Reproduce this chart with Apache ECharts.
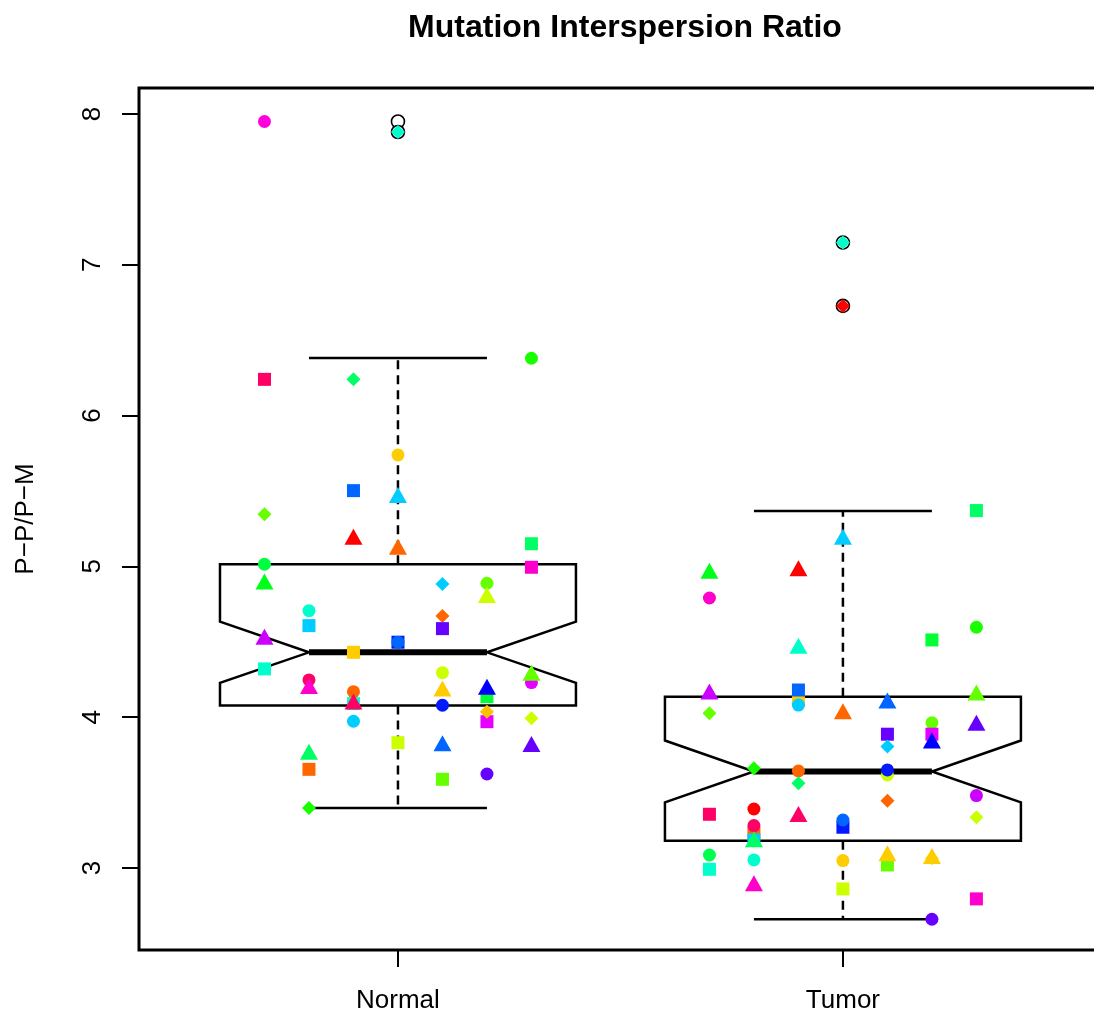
<!DOCTYPE html>
<html>
<head>
<meta charset="utf-8">
<script src="https://cdn.jsdelivr.net/npm/echarts@6/dist/echarts.min.js"></script>
<style>
  html, body { margin: 0; padding: 0; background: #fff; }
  #chart { width: 1094px; height: 1018px; }
</style>
</head>
<body>
<div id="chart"></div>
<script>
// ---- data ---------------------------------------------------------------
const groups = ['Normal', 'Tumor'];
const yTicks = [3, 4, 5, 6, 7, 8];

// box statistics: lower whisker, lower hinge, median, upper hinge, upper whisker
const normalBox = [3.398, 4.077, 4.43, 5.014, 6.382];
const tumorBox = [2.66, 3.18, 3.64, 4.136, 5.367];
// notch limits around the median
const normalNotch = [4.227, 4.633];
const tumorNotch = [3.435, 3.845];
// values beyond the whiskers
const normalOutliers = [7.95, 7.88];
const tumorOutliers = [7.147, 6.727];

// individual samples, jittered horizontally around their group
const normalValues = [
  7.95, 6.24, 5.345, 5.014, 4.90, 4.534, 4.32,
  4.706, 4.607, 4.247, 4.207, 3.771, 3.654, 3.398,
  6.24, 5.502, 5.197, 4.43, 4.169, 4.09, 4.103, 3.973,
  7.88, 5.739, 5.473, 5.13, 4.497, 4.497, 3.831,
  4.883, 4.671, 4.587, 4.295, 4.19, 4.079, 3.827, 3.588,
  4.888, 4.81, 4.136, 4.202, 3.97, 4.036, 3.623,
  6.38, 5.15, 4.994, 4.229, 4.295, 3.993, 3.822
];
const normalJitter = [
  -0.3, -0.3, -0.3, -0.3, -0.3, -0.3, -0.3,
  -0.2, -0.2, -0.2, -0.2, -0.2, -0.2, -0.2,
  -0.1, -0.1, -0.1, -0.1, -0.1, -0.1, -0.1, -0.1,
  0, 0, 0, 0, 0, 0, 0,
  0.1, 0.1, 0.1, 0.1, 0.1, 0.1, 0.1, 0.1,
  0.2, 0.2, 0.2, 0.2, 0.2, 0.2, 0.2,
  0.3, 0.3, 0.3, 0.3, 0.3, 0.3, 0.3
];
const normalPch = [
  16, 15, 18, 16, 17, 17, 15,
  16, 15, 16, 17, 17, 15, 18,
  18, 15, 17, 15, 16, 15, 17, 16,
  18, 16, 17, 17, 15, 16, 15,
  18, 18, 15, 16, 17, 16, 17, 15,
  16, 17, 15, 17, 15, 18, 16,
  16, 15, 15, 16, 17, 18, 17
];
const normalColors = [
  '#FF00DD', '#FF0066', '#66FF00', '#00FF40', '#00FF19', '#CC00FF', '#00FFCC',
  '#00FFCC', '#00CCFF', '#FF0066', '#FF00CC', '#00FF66', '#FF6600', '#19FF00',
  '#00FF66', '#0066FF', '#FF0000', '#FFCC00', '#FF6600', '#00FFCC', '#FF0066', '#00CCFF',
  '#00FFCC', '#FFCC00', '#00CCFF', '#FF6600', '#0019FF', '#0066FF', '#CCFF00',
  '#00CCFF', '#FF6600', '#6600FF', '#CCFF00', '#FFCC00', '#0019FF', '#0066FF', '#66FF00',
  '#66FF00', '#CCFF00', '#00FF33', '#0000FF', '#E600FF', '#FFC000', '#6600FF',
  '#19FF00', '#00FF66', '#FF00CC', '#E600FF', '#66FF00', '#CCFF00', '#6600FF'
];

const tumorValues = [
  4.971, 4.79, 4.17, 4.026, 3.356, 3.086, 2.991,
  3.661, 3.391, 3.23, 3.186, 3.281, 3.19, 3.053, 2.899,
  4.987, 4.474, 4.115, 4.08, 4.18, 3.643, 3.562, 3.358,
  7.147, 6.727, 5.197, 4.04, 3.27, 3.318, 3.049, 2.861,
  4.11, 3.887, 3.805, 3.617, 3.65, 3.446, 3.02, 3.098,
  4.512, 3.963, 3.887, 3.845, 3.065, 3.08, 2.66,
  5.37, 4.596, 4.163, 3.963, 3.48, 3.336, 2.795
];
const tumorJitter = [
  -0.3, -0.3, -0.3, -0.3, -0.3, -0.3, -0.3,
  -0.2, -0.2, -0.2, -0.2, -0.2, -0.2, -0.2, -0.2,
  -0.1, -0.1, -0.1, -0.1, -0.1, -0.1, -0.1, -0.1,
  0, 0, 0, 0, 0, 0, 0, 0,
  0.1, 0.1, 0.1, 0.1, 0.1, 0.1, 0.1, 0.1,
  0.2, 0.2, 0.2, 0.2, 0.2, 0.2, 0.2,
  0.3, 0.3, 0.3, 0.3, 0.3, 0.3, 0.3
];
const tumorPch = [
  17, 16, 17, 18, 15, 16, 15,
  18, 16, 15, 15, 16, 17, 16, 17,
  17, 17, 15, 16, 15, 16, 18, 17,
  18, 18, 17, 17, 15, 16, 16, 15,
  17, 15, 18, 16, 16, 18, 15, 17,
  15, 16, 15, 17, 18, 17, 16,
  15, 16, 17, 17, 16, 18, 15
];
const tumorColors = [
  '#00FF19', '#FF00CC', '#CC00FF', '#66FF00', '#FF0066', '#00FF4D', '#00FFCC',
  '#19FF00', '#FF0000', '#FF6600', '#00CCFF', '#FF0066', '#00FF66', '#00FFCC', '#FF00CC',
  '#FF0000', '#00FFCC', '#FFCC00', '#00CCFF', '#0066FF', '#FF6600', '#00FF66', '#FF0066',
  '#00FFCC', '#FF0000', '#00CCFF', '#FF6600', '#0019FF', '#0066FF', '#FFCC00', '#CCFF00',
  '#0066FF', '#6600FF', '#00CCFF', '#CCFF00', '#0019FF', '#FF6600', '#66FF00', '#FFCC00',
  '#00FF33', '#66FF00', '#E600FF', '#0000FF', '#CCFF00', '#FFCC00', '#6600FF',
  '#00FF66', '#19FF00', '#66FF00', '#6600FF', '#CC00FF', '#CCFF00', '#FF00CC'
];

// ---- drawing --------------------------------------------------------------
const FONT = '"Liberation Sans", Arial, Helvetica, sans-serif';

// R plotting characters -> ECharts symbols
const pchSymbol = { 15: 'rect', 16: 'circle', 17: 'triangle', 18: 'diamond' };
const pchSize = { 15: 13, 16: 13, 17: [18, 16], 18: 14 };

function jitterPoints(center, values, jitter, pch, colors) {
  return values.map((v, i) => ({
    value: [center + jitter[i], v],
    symbol: pchSymbol[pch[i]],
    symbolSize: pchSize[pch[i]],
    itemStyle: { color: colors[i], opacity: 1 }
  }));
}

const boxData = [
  [1, ...normalBox, ...normalNotch],
  [2, ...tumorBox, ...tumorNotch]
];

function renderBox(params, api) {
  const c = api.value(0);
  const lo = api.value(1), q1 = api.value(2), med = api.value(3),
        q3 = api.value(4), hi = api.value(5),
        nLo = api.value(6), nHi = api.value(7);
  const P = (x, y) => api.coord([x, y]);
  const hw = 0.4, nw = 0.2, sw = 0.2;
  const solid = { stroke: '#000', lineWidth: 2.5, fill: null };
  const dashed = { stroke: '#000', lineWidth: 2.5, lineDash: [9, 6], fill: null };
  const seg = (a, b, style) => ({
    type: 'line',
    shape: { x1: a[0], y1: a[1], x2: b[0], y2: b[1] },
    style: style
  });
  return {
    type: 'group',
    children: [
      seg(P(c, q3), P(c, hi), dashed),
      seg(P(c, q1), P(c, lo), dashed),
      seg(P(c - sw, hi), P(c + sw, hi), solid),
      seg(P(c - sw, lo), P(c + sw, lo), solid),
      {
        type: 'polygon',
        shape: {
          points: [
            P(c - hw, q3), P(c + hw, q3), P(c + hw, nHi), P(c + nw, med),
            P(c + hw, nLo), P(c + hw, q1), P(c - hw, q1), P(c - hw, nLo),
            P(c - nw, med), P(c - hw, nHi)
          ]
        },
        style: { stroke: '#000', lineWidth: 2.5, fill: null }
      },
      seg(P(c - nw, med), P(c + nw, med), { stroke: '#000', lineWidth: 6 })
    ]
  };
}

const outlierData = [
  ...normalOutliers.map(v => [1, v]),
  ...tumorOutliers.map(v => [2, v])
];

const chart = echarts.init(document.getElementById('chart'), null, { renderer: 'canvas' });

chart.setOption({
  animation: false,
  backgroundColor: '#fff',
  textStyle: { fontFamily: FONT },
  title: {
    text: 'Mutation Interspersion Ratio',
    left: 620,
    textAlign: 'center',
    top: 7,
    textStyle: { fontFamily: FONT, fontSize: 32, fontWeight: 'bold', color: '#000' }
  },
  grid: {
    left: 139,
    top: 88,
    width: 962,
    height: 862,
    outerBoundsMode: 'none',
    containLabel: false,
    show: true,
    borderColor: '#000',
    borderWidth: 3,
    backgroundColor: 'transparent'
  },
  xAxis: {
    type: 'value',
    min: 0.418,
    max: 2.58,
    axisLine: { show: false },
    splitLine: { show: false },
    axisTick: {
      show: true,
      customValues: [1, 2],
      length: 17,
      lineStyle: { color: '#000', width: 2 }
    },
    axisLabel: {
      customValues: [1, 2],
      formatter: v => groups[Math.round(v) - 1],
      margin: 38,
      fontSize: 26,
      color: '#000',
      fontFamily: FONT
    }
  },
  yAxis: {
    type: 'value',
    min: 2.456,
    max: 8.172,
    name: 'P\u2212P/P\u2212M',
    nameLocation: 'middle',
    nameRotate: 90,
    nameGap: 100,
    nameTextStyle: { fontSize: 26, color: '#000', fontFamily: FONT },
    axisLine: { show: false },
    splitLine: { show: false },
    axisTick: {
      show: true,
      customValues: yTicks,
      length: 17,
      lineStyle: { color: '#000', width: 2 }
    },
    axisLabel: {
      customValues: yTicks,
      rotate: 90,
      margin: 33,
      fontSize: 26,
      color: '#000',
      fontFamily: FONT
    }
  },
  series: [
    {
      type: 'custom',
      renderItem: renderBox,
      data: boxData,
      silent: true,
      z: 2
    },
    {
      type: 'scatter',
      data: outlierData,
      symbol: 'circle',
      symbolSize: 13,
      itemStyle: { color: '#fff', borderColor: '#000', borderWidth: 1.6, opacity: 1 },
      silent: true,
      z: 3
    },
    {
      type: 'scatter',
      data: jitterPoints(1, normalValues, normalJitter, normalPch, normalColors),
      silent: true,
      z: 4
    },
    {
      type: 'scatter',
      data: jitterPoints(2, tumorValues, tumorJitter, tumorPch, tumorColors),
      silent: true,
      z: 4
    }
  ]
});
</script>
</body>
</html>
